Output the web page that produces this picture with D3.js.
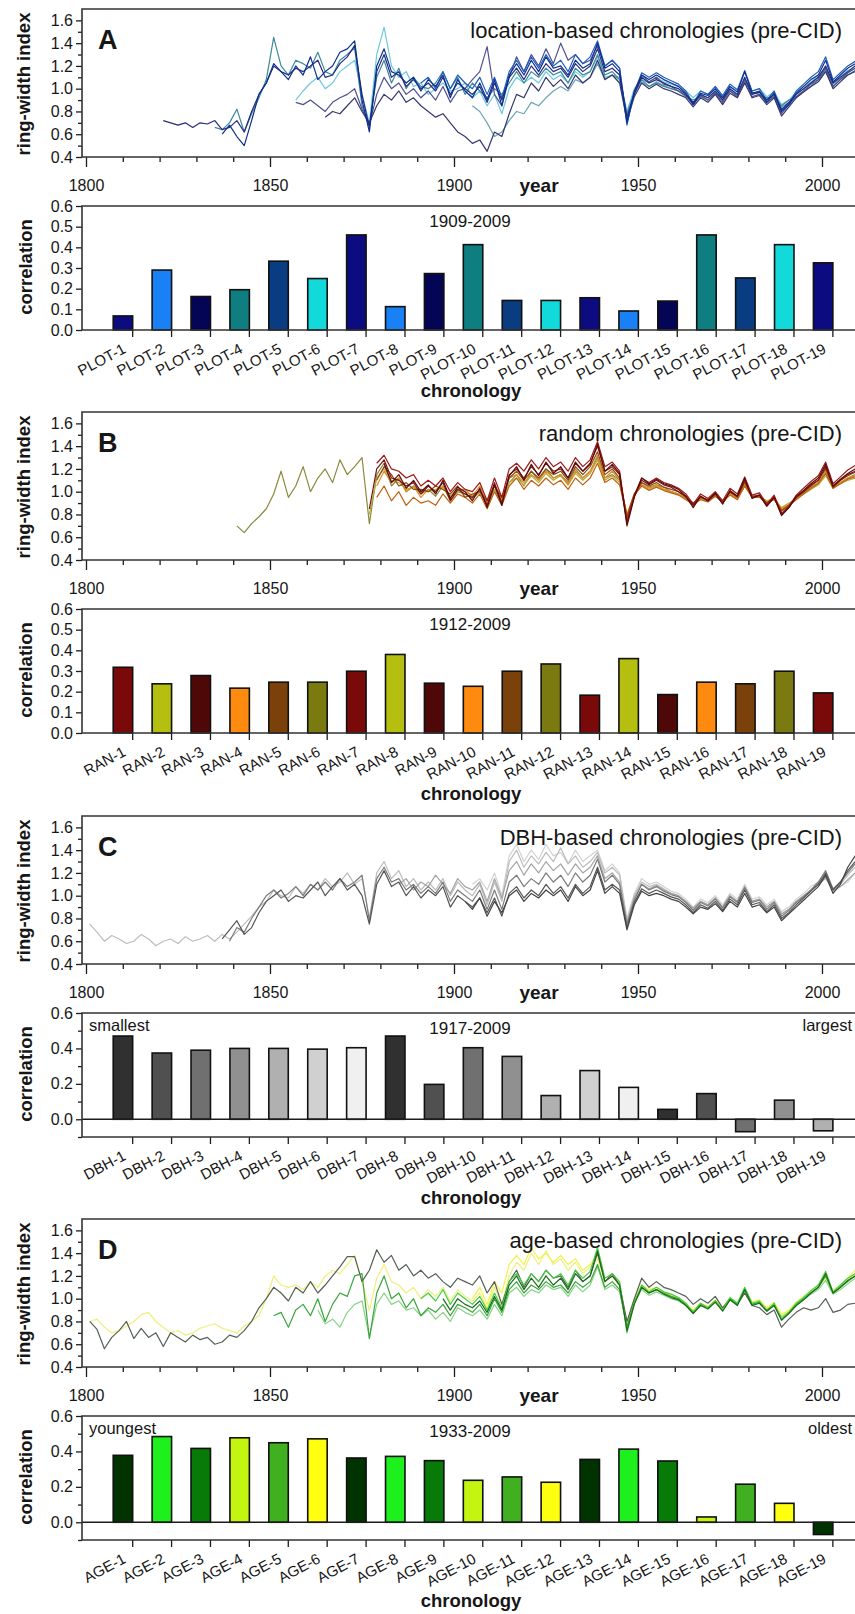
<!DOCTYPE html>
<html lang="en">
<head>
<meta charset="utf-8" />
<title>pre-CID chronologies and correlations</title>
<script src="https://cdn.jsdelivr.net/npm/d3@7"></script>
<style>
  body { margin: 0; background: #fff; }
  svg { display: block; }
  text { font-family: "Liberation Sans", Arial, Helvetica, sans-serif; fill: #161616; }
</style>
</head>
<body>
<svg id="chart" width="855" height="1614"></svg>
<script>
// every ring-width series ends in 2009 and is sampled every 2nd year
var seriesEnd = 2009, seriesStep = 2;

// ---------- A: location-based ----------
var plotNames = ["PLOT-1","PLOT-2","PLOT-3","PLOT-4","PLOT-5","PLOT-6","PLOT-7","PLOT-8","PLOT-9","PLOT-10",
  "PLOT-11","PLOT-12","PLOT-13","PLOT-14","PLOT-15","PLOT-16","PLOT-17","PLOT-18","PLOT-19"];
var plotCorr = [0.068,0.29,0.162,0.195,0.333,0.249,0.46,0.113,0.273,0.413,0.143,0.143,0.156,0.092,0.14,0.46,0.252,0.413,0.325];
var plotBarColors = ["#0c0c80","#1a80f5","#050555","#0e7e80","#0a3c82","#12dada","#0c0c80","#1a80f5","#050555","#0e7e80",
  "#0a3c82","#12dada","#0c0c80","#1a80f5","#050555","#0e7e80","#0a3c82","#12dada","#0c0c80"];
var plotLineColors = ["#6cc9e0","#6aa5b5","#3b8b9b","#505090","#363670","#1f5fc0","#2a2a7e","#0b2f8f"];
var plotLines = [
  [ .90,.98,1.05,1.10,1.00,1.05,1.15,1.20,1.25,.95,.70,                 // 1857-1877
    1.30,1.54,1.20,1.10,1.15,1.02,1.05,0.95,1.00,1.05,
    0.98,1.00,1.05,0.92,0.98,0.85,0.95,0.78,1.00,1.10,
    1.05,1.10,1.05,1.15,1.08,1.12,1.05,1.15,1.10,1.15,
    1.28,1.10,1.12,1.10,0.80,1.00,1.08,1.05,1.10,1.06,
    1.04,1.02,0.98,0.92,0.98,0.95,1.00,0.93,1.02,0.98,
    1.08,0.98,1.00,0.93,0.97,0.86,0.90,0.97,1.02,1.06,
    1.12,1.18,1.06,1.10,1.16,1.18 ],
  [ 0.85,0.80,0.70,0.58,0.62,0.72,0.80,                                 // 1905-1917
    0.78,0.88,0.85,0.92,0.98,1.02,0.98,1.08,1.05,1.10,
    1.22,1.08,1.12,1.08,0.76,0.96,1.06,1.02,1.06,1.03,
    1.00,0.98,0.94,0.88,0.94,0.92,0.97,0.90,0.99,0.95,
    1.08,0.96,0.97,0.90,0.95,0.84,0.88,0.95,1.00,1.05,
    1.10,1.16,1.04,1.09,1.14,1.18 ],
  [ .66,.64,.70,.82,.62,.78,.92,1.08,1.45,1.20,                         // 1835-1853
    1.12,1.25,1.22,1.18,1.32,1.15,1.12,1.25,1.30,1.36,.85,.68,
    1.10,1.25,1.05,1.18,1.00,1.10,1.02,1.00,1.05,1.15,
    1.00,1.10,0.95,1.05,0.98,0.92,1.00,0.95,1.05,1.15,
    1.05,1.15,1.10,1.18,1.12,1.15,1.05,1.18,1.12,1.15,
    1.30,1.12,1.15,1.08,0.78,0.97,1.08,1.02,1.05,1.02,
    1.00,0.98,0.93,0.90,0.93,0.90,0.96,0.92,0.98,0.94,
    1.06,0.97,0.95,0.92,0.93,0.85,0.90,0.93,0.98,1.02,
    1.08,1.15,1.02,1.08,1.12,1.16 ],
  [ .88,.86,.90,.85,.80,.88,.92,.95,1.00,.82,.68,                       // 1857-1877
    0.95,1.10,1.00,1.05,0.95,1.00,0.92,0.98,0.90,1.02,
    0.88,0.98,1.00,1.08,1.15,1.37,0.95,0.85,1.10,1.28,
    1.15,1.30,1.20,1.35,1.22,1.40,1.25,1.30,1.22,1.25,
    1.38,1.20,1.25,1.18,0.72,0.96,1.12,1.06,1.10,1.04,
    1.02,0.98,0.94,0.86,0.94,0.90,0.96,0.88,0.98,0.93,
    1.08,0.93,0.95,0.88,0.93,0.78,0.86,0.93,0.98,1.04,
    1.08,1.18,1.02,1.08,1.14,1.18 ],
  [ .75,.80,.78,.85,.92,.80,.70,                                        // 1865-1877
    0.85,0.95,0.90,0.98,0.88,0.92,0.85,0.80,0.75,0.78,
    0.70,0.62,0.58,0.52,0.55,0.45,0.62,0.58,0.78,0.95,
    0.92,1.05,0.98,1.10,1.02,1.08,1.00,1.12,1.05,1.10,
    1.25,1.08,1.12,1.05,0.72,0.93,1.05,1.00,1.04,1.00,
    0.98,0.95,0.92,0.84,0.92,0.88,0.95,0.86,0.96,0.92,
    1.05,0.92,0.94,0.86,0.92,0.76,0.84,0.92,0.97,1.02,
    1.06,1.15,1.00,1.06,1.12,1.15 ],
  [ 1.05,1.10,1.00,1.15,                                                // 1891-1897
    1.00,1.12,1.05,1.00,1.10,0.95,1.10,0.92,1.15,1.25,
    1.15,1.28,1.18,1.30,1.20,1.25,1.15,1.30,1.22,1.28,
    1.42,1.20,1.25,1.18,0.68,0.97,1.14,1.10,1.14,1.10,
    1.07,1.04,0.98,0.87,0.98,0.95,1.02,0.94,1.04,0.99,
    1.16,0.98,1.00,0.90,0.98,0.81,0.87,0.98,1.04,1.10,
    1.15,1.28,1.08,1.14,1.20,1.24 ],
  [ .72,.70,.68,.70,.66,.70,.69,.72,.64,.66,                            // 1821-1839
    .72,.62,.80,.95,1.05,1.20,1.15,1.12,1.18,1.15,
    1.20,1.25,1.10,1.12,1.22,1.28,1.38,.95,.66,
    1.15,1.30,1.10,1.15,1.02,1.08,1.00,1.05,0.98,1.10,
    0.95,1.05,1.00,0.95,1.02,0.88,1.05,0.90,1.10,1.18,
    1.08,1.20,1.12,1.22,1.15,1.18,1.10,1.22,1.15,1.20,
    1.35,1.15,1.18,1.12,0.75,0.95,1.10,1.05,1.08,1.05,
    1.02,1.00,0.95,0.88,0.95,0.92,0.98,0.90,1.00,0.95,
    1.10,0.95,0.97,0.90,0.95,0.82,0.88,0.95,1.00,1.05,
    1.10,1.20,1.05,1.10,1.15,1.20 ],
  [ .60,.68,.58,.50,.72,.95,1.05,1.22,1.15,1.08,                        // 1837-1855
    1.20,1.12,1.28,1.08,1.15,1.20,1.32,1.35,1.42,.90,.62,
    1.20,1.35,1.15,1.12,1.05,1.10,0.98,1.08,1.02,1.12,
    0.92,1.08,0.98,0.92,1.05,0.90,1.08,0.85,1.12,1.22,
    1.12,1.25,1.15,1.28,1.18,1.20,1.12,1.25,1.18,1.22,
    1.40,1.18,1.22,1.15,0.70,0.98,1.12,1.08,1.12,1.08,
    1.05,1.02,0.96,0.86,0.96,0.94,1.00,0.92,1.02,0.97,
    1.15,0.96,0.98,0.88,0.96,0.80,0.86,0.96,1.02,1.08,
    1.12,1.25,1.06,1.12,1.18,1.22 ]
];

// ---------- B: random ----------
var ranNames = ["RAN-1","RAN-2","RAN-3","RAN-4","RAN-5","RAN-6","RAN-7","RAN-8","RAN-9","RAN-10",
  "RAN-11","RAN-12","RAN-13","RAN-14","RAN-15","RAN-16","RAN-17","RAN-18","RAN-19"];
var ranCorr = [0.318,0.238,0.278,0.217,0.246,0.246,0.299,0.38,0.241,0.226,0.299,0.334,0.183,0.36,0.186,0.246,0.238,0.299,0.194];
var ranBarColors = ["#7a0a0a","#b5bf10","#4f0808","#ff8a10","#7a420a","#7a7a10","#7a0a0a","#b5bf10","#4f0808","#ff8a10",
  "#7a420a","#7a7a10","#7a0a0a","#b5bf10","#4f0808","#ff8a10","#7a420a","#7a7a10","#7a0a0a"];
var ranLineColors = ["#8a8a3a","#b0b040","#e08a20","#c06010","#8b4a14","#a01818","#7a1414","#5a0a0a"];
var ranLines = [
  [ .70,.64,.72,.78,.85,.98,1.18,.95,1.05,1.22,                         // 1841-1859
    1.00,1.12,1.20,1.08,1.28,1.15,1.22,1.30,0.72,
    1.15,1.25,1.05,1.12,1.00,1.05,0.98,1.02,0.96,1.05,
    0.92,1.00,0.98,0.94,1.00,0.88,1.02,0.90,1.08,1.15,
    1.05,1.18,1.10,1.20,1.12,1.15,1.08,1.20,1.12,1.18,
    1.30,1.12,1.15,1.10,0.76,0.96,1.08,1.04,1.06,1.04,
    1.00,0.98,0.94,0.88,0.94,0.92,0.97,0.90,0.99,0.95,
    1.08,0.95,0.96,0.90,0.94,0.83,0.88,0.94,0.99,1.04,
    1.08,1.16,1.03,1.08,1.12,1.15 ],
  [ 0.80,                                                               // 1877
    1.12,1.20,1.10,1.08,1.02,1.04,1.00,1.00,1.02,1.04,
    0.96,1.02,1.00,0.97,1.00,0.92,1.02,0.94,1.08,1.12,
    1.06,1.14,1.08,1.16,1.10,1.14,1.06,1.16,1.10,1.16,
    1.28,1.10,1.14,1.08,0.80,0.98,1.06,1.02,1.05,1.02,
    1.00,0.98,0.94,0.90,0.94,0.92,0.96,0.92,0.98,0.94,
    1.05,0.96,0.96,0.92,0.94,0.86,0.90,0.94,0.98,1.02,
    1.06,1.14,1.03,1.07,1.10,1.12 ],
  [ 1.05,1.18,1.08,1.12,1.00,1.05,0.95,1.02,1.00,1.05,                  // 1879-1897
    0.95,1.02,1.02,0.96,1.05,0.90,1.05,0.92,1.12,1.15,
    1.08,1.15,1.10,1.18,1.12,1.15,1.06,1.18,1.12,1.18,
    1.32,1.12,1.18,1.10,0.80,0.98,1.06,1.03,1.06,1.02,
    1.00,0.98,0.94,0.90,0.94,0.92,0.97,0.92,0.98,0.94,
    1.06,0.96,0.96,0.91,0.94,0.85,0.89,0.94,0.99,1.04,
    1.08,1.18,1.04,1.08,1.12,1.14 ],
  [ 0.95,1.05,0.92,1.00,0.88,0.95,0.90,0.92,0.88,0.98,                  // 1879-1897
    0.90,0.98,0.95,0.90,0.98,0.85,1.00,0.88,1.05,1.12,
    1.02,1.10,1.05,1.12,1.06,1.10,1.02,1.12,1.06,1.12,
    1.25,1.08,1.12,1.06,0.78,0.97,1.05,1.01,1.04,1.01,
    0.99,0.97,0.93,0.89,0.93,0.91,0.96,0.91,0.97,0.93,
    1.05,0.95,0.95,0.90,0.93,0.84,0.88,0.93,0.98,1.03,
    1.07,1.16,1.03,1.07,1.11,1.13 ],
  [ 1.10,1.22,1.15,1.05,1.08,1.02,1.02,1.00,1.05,1.02,                  // 1879-1897
    0.98,1.05,0.95,0.98,1.00,0.92,1.05,0.95,1.12,1.18,
    1.10,1.18,1.12,1.20,1.15,1.18,1.10,1.22,1.15,1.22,
    1.35,1.15,1.20,1.12,0.78,0.98,1.08,1.05,1.08,1.04,
    1.02,1.00,0.95,0.90,0.95,0.93,0.98,0.91,1.00,0.95,
    1.08,0.96,0.97,0.90,0.95,0.83,0.88,0.95,1.00,1.05,
    1.10,1.20,1.05,1.10,1.14,1.17 ],
  [ 1.25,1.32,1.20,1.18,1.12,1.15,1.05,1.10,1.05,1.12,                  // 1879-1897
    1.00,1.08,1.02,1.00,1.08,0.92,1.12,0.95,1.20,1.25,
    1.18,1.28,1.20,1.30,1.22,1.26,1.18,1.30,1.22,1.28,
    1.44,1.22,1.26,1.18,0.74,0.97,1.12,1.08,1.12,1.08,
    1.06,1.03,0.98,0.89,0.98,0.94,1.00,0.92,1.03,0.98,
    1.13,0.97,0.99,0.89,0.97,0.81,0.87,0.97,1.03,1.09,
    1.14,1.26,1.07,1.13,1.19,1.23 ],
  [ 0.85,                                                               // 1877
    1.20,1.28,1.12,1.10,1.05,1.08,0.98,1.05,1.00,1.08,
    0.92,1.02,0.98,0.95,1.02,0.88,1.08,0.90,1.15,1.20,
    1.12,1.22,1.15,1.25,1.18,1.20,1.12,1.25,1.18,1.25,
    1.40,1.18,1.22,1.15,0.72,0.96,1.10,1.06,1.10,1.06,
    1.04,1.00,0.96,0.88,0.96,0.92,0.98,0.90,1.00,0.96,
    1.10,0.95,0.97,0.88,0.95,0.80,0.86,0.95,1.00,1.06,
    1.10,1.22,1.04,1.10,1.15,1.18 ],
  [ 1.25,1.08,1.15,1.03,1.10,1.00,1.06,0.98,1.10,                       // 1881-1897
    0.94,1.04,1.00,0.92,1.03,0.86,1.06,0.88,1.14,1.22,
    1.10,1.24,1.14,1.26,1.16,1.22,1.12,1.26,1.18,1.24,
    1.42,1.18,1.24,1.16,0.70,0.95,1.12,1.07,1.11,1.07,
    1.05,1.02,0.96,0.86,0.96,0.92,0.99,0.89,1.01,0.96,
    1.12,0.94,0.97,0.87,0.95,0.79,0.86,0.96,1.01,1.07,
    1.12,1.24,1.05,1.11,1.16,1.20 ]
];

// ---------- C: DBH-based ----------
var dbhNames = ["DBH-1","DBH-2","DBH-3","DBH-4","DBH-5","DBH-6","DBH-7","DBH-8","DBH-9","DBH-10",
  "DBH-11","DBH-12","DBH-13","DBH-14","DBH-15","DBH-16","DBH-17","DBH-18","DBH-19"];
var dbhCorr = [0.47,0.374,0.39,0.40,0.40,0.396,0.404,0.47,0.197,0.404,0.355,0.134,0.275,0.18,0.056,0.145,-0.07,0.108,-0.065];
var dbhBarColors = ["#303030","#505050","#707070","#909090","#b0b0b0","#d0d0d0","#f0f0f0","#303030","#505050","#707070",
  "#909090","#b0b0b0","#d0d0d0","#f0f0f0","#303030","#505050","#707070","#909090","#b0b0b0"];
var dbhLineColors = ["#d2d2d2","#bcbcbc","#a4a4a4","#7c7c7c","#555555","#444444"];
var dbhLines = [
  [ 1.10,1.15,1.05,1.20,1.00,1.35,1.45,                                 // 1905-1917
    1.30,1.40,1.32,1.45,1.35,1.38,1.28,1.40,1.30,1.35,
    1.40,1.22,1.28,1.20,0.80,1.02,1.15,1.10,1.12,1.08,
    1.04,1.02,0.97,0.90,0.97,0.94,1.00,0.92,1.02,0.97,
    1.10,0.97,0.99,0.92,0.97,0.86,0.90,0.97,1.02,1.08,
    1.12,1.18,1.05,1.08,1.12,1.20 ],
  [ .75,.68,.60,.65,.62,.58,.60,.66,.62,.56,                            // 1801-1819
    .60,.62,.58,.64,.60,.62,.65,.60,.66,.62,
    .68,.75,.82,.90,.95,1.05,1.00,.98,1.08,1.02,
    1.10,1.05,1.15,1.08,1.12,1.20,1.10,1.15,.80,
    1.20,1.30,1.15,1.22,1.08,1.15,1.05,1.12,1.05,1.15,
    1.00,1.12,1.05,1.00,1.10,0.92,1.12,0.95,1.30,1.40,
    1.25,1.35,1.28,1.38,1.30,1.42,1.28,1.35,1.25,1.30,
    1.38,1.20,1.25,1.18,0.78,1.00,1.12,1.08,1.10,1.06,
    1.02,1.00,0.95,0.88,0.95,0.92,0.98,0.90,1.00,0.95,
    1.08,0.95,0.97,0.90,0.95,0.84,0.88,0.95,1.00,1.05,
    1.10,1.15,1.05,1.10,1.18,1.25 ],
  [ 1.10,1.15,1.05,1.12,1.08,1.18,1.10,                                 // 1885-1897
    1.02,1.15,1.08,1.05,1.12,0.95,1.15,0.98,1.22,1.30,
    1.18,1.28,1.20,1.30,1.22,1.28,1.18,1.28,1.20,1.25,
    1.35,1.15,1.20,1.12,0.76,0.98,1.10,1.06,1.09,1.05,
    1.02,1.00,0.95,0.89,0.95,0.92,0.98,0.90,1.00,0.95,
    1.08,0.95,0.97,0.90,0.95,0.84,0.88,0.95,1.00,1.05,
    1.10,1.16,1.04,1.08,1.14,1.20 ],
  [ .60,.72,.68,.80,.90,1.00,1.05,.98,1.02,1.08,                        // 1839-1857
    1.00,1.10,1.05,1.12,1.05,1.15,1.08,1.12,1.18,.78,
    1.15,1.25,1.12,1.15,1.05,1.10,1.02,1.08,1.02,1.12,
    0.95,1.05,1.00,0.95,1.05,0.88,1.05,0.88,1.12,1.18,
    1.08,1.15,1.10,1.20,1.12,1.18,1.08,1.20,1.12,1.18,
    1.32,1.12,1.18,1.10,0.75,0.96,1.10,1.05,1.08,1.04,
    1.01,0.99,0.94,0.87,0.94,0.91,0.97,0.89,0.99,0.94,
    1.07,0.94,0.96,0.88,0.94,0.82,0.87,0.94,0.99,1.05,
    1.12,1.22,1.06,1.12,1.20,1.28 ],
  [ .62,.70,.78,.66,.72,.85,.95,1.00,1.05,.95,                          // 1837-1855
    1.00,.98,1.05,1.12,1.00,1.08,1.15,1.05,1.10,1.00,.75,
    1.10,1.22,1.08,1.12,1.00,1.08,0.98,1.05,1.00,1.08,
    0.90,1.00,0.95,0.90,0.98,0.85,0.98,0.82,1.02,1.08,
    0.98,1.05,1.00,1.10,1.02,1.08,0.98,1.10,1.02,1.08,
    1.25,1.05,1.10,1.05,0.72,0.94,1.06,1.02,1.05,1.02,
    0.99,0.97,0.92,0.85,0.92,0.89,0.95,0.87,0.97,0.92,
    1.05,0.92,0.94,0.86,0.92,0.80,0.85,0.92,0.98,1.04,
    1.10,1.20,1.05,1.12,1.22,1.30 ],
  [ 0.95,0.88,0.98,0.82,0.95,0.85,1.00,1.05,                            // 1903-1917
    0.95,1.02,0.98,1.05,1.00,1.05,0.95,1.08,1.00,1.05,
    1.22,1.02,1.08,1.02,0.70,0.92,1.04,1.00,1.02,1.00,
    0.97,0.95,0.90,0.84,0.90,0.88,0.93,0.86,0.95,0.90,
    1.02,0.90,0.92,0.85,0.90,0.78,0.84,0.90,0.96,1.02,
    1.08,1.18,1.02,1.10,1.25,1.35 ]
];

// ---------- D: age-based ----------
var ageNames = ["AGE-1","AGE-2","AGE-3","AGE-4","AGE-5","AGE-6","AGE-7","AGE-8","AGE-9","AGE-10",
  "AGE-11","AGE-12","AGE-13","AGE-14","AGE-15","AGE-16","AGE-17","AGE-18","AGE-19"];
var ageCorr = [0.378,0.484,0.417,0.477,0.449,0.471,0.363,0.372,0.348,0.237,0.256,0.226,0.355,0.413,0.346,0.03,0.215,0.107,-0.069];
var ageBarColors = ["#003300","#1ef01e","#077a07","#c4f510","#40b020","#ffff10","#003300","#1ef01e","#077a07","#c4f510",
  "#40b020","#ffff10","#003300","#1ef01e","#077a07","#c4f510","#40b020","#ffff10","#003300"];
var ageLineColors = ["#eef07a","#f2f24a","#86d486","#555f55","#3aa53a","#44d044","#1a6a1a"];
var ageLines = [
  [ .80,.82,.75,.70,.72,.76,.80,.86,.88,.80,                            // 1801-1819
    .75,.70,.72,.68,.70,.74,.76,.78,.74,.72,
    .70,.76,.80,.85,1.00,1.20,1.12,1.10,1.12,1.08,
    1.15,1.10,1.20,1.25,1.22,1.30,1.38,1.15,0.90,
    1.18,1.30,1.15,1.12,1.05,1.10,1.00,1.08,1.02,1.10,
    0.98,1.08,1.02,0.98,1.05,0.92,1.10,0.95,1.20,1.32,
    1.25,1.40,1.30,1.42,1.30,1.35,1.25,1.32,1.22,1.28,
    1.35,1.15,1.20,1.12,0.78,0.98,1.10,1.05,1.08,1.05,
    1.02,1.00,0.96,0.90,0.96,0.93,0.98,0.91,1.00,0.96,
    1.08,0.96,0.98,0.91,0.96,0.85,0.89,0.96,1.01,1.06,
    1.10,1.18,1.05,1.10,1.16,1.22 ],
  [ 1.00,1.10,0.95,1.15,1.05,1.30,1.38,                                 // 1905-1917
    1.30,1.45,1.35,1.40,1.32,1.38,1.30,1.35,1.25,1.30,
    1.38,1.15,1.22,1.14,0.78,1.00,1.12,1.08,1.10,1.06,
    1.03,1.01,0.96,0.90,0.96,0.93,0.99,0.92,1.01,0.96,
    1.09,0.97,0.99,0.92,0.97,0.86,0.90,0.97,1.02,1.07,
    1.12,1.20,1.07,1.12,1.18,1.25 ],
  [ .90,.78,.82,.75,.88,.95,.98,.66,                                    // 1863-1877
    0.95,1.05,0.95,0.98,0.90,0.92,0.85,0.90,0.82,0.88,
    0.80,0.92,0.88,0.85,0.90,0.82,0.95,0.85,1.05,1.10,
    1.02,1.08,1.05,1.12,1.08,1.10,1.02,1.12,1.06,1.12,
    1.28,1.08,1.12,1.06,0.76,0.96,1.08,1.03,1.06,1.03,
    1.00,0.98,0.94,0.89,0.94,0.92,0.97,0.90,0.99,0.95,
    1.07,0.95,0.96,0.90,0.94,0.84,0.88,0.94,0.99,1.04,
    1.08,1.16,1.04,1.08,1.13,1.18 ],
  [ .80,.73,.56,.66,.72,.80,.65,.74,.66,.70,                            // 1801-1819
    .58,.70,.66,.62,.68,.64,.66,.60,.62,.68,
    .66,.72,.80,.92,1.00,1.10,1.05,.98,1.10,1.05,
    1.15,1.05,1.12,1.20,1.28,1.37,1.37,1.15,1.25,
    1.43,1.32,1.38,1.25,1.30,1.20,1.25,1.18,1.22,1.15,
    1.10,1.18,1.15,1.12,1.20,1.05,1.15,0.95,1.15,1.25,
    1.10,1.22,1.15,1.25,1.18,1.20,1.10,1.25,1.15,1.20,
    1.40,1.15,1.22,1.12,0.80,1.00,1.18,1.10,1.15,1.10,
    1.08,1.05,1.02,0.95,1.00,0.96,1.02,0.92,1.00,0.95,
    1.05,0.94,0.92,0.86,0.90,0.75,0.82,0.88,0.92,0.90,
    0.92,1.00,0.88,0.90,0.95,0.96 ],
  [ .85,.88,.75,.90,.95,.85,1.00,.80,.95,1.05,1.02,1.20,1.22,.65,      // 1851-1877
    1.05,1.20,1.00,1.05,0.92,1.00,0.85,0.92,0.88,0.95,
    0.85,0.95,0.92,0.88,0.95,0.85,1.00,0.88,1.08,1.15,
    1.05,1.12,1.08,1.15,1.10,1.12,1.05,1.15,1.10,1.15,
    1.30,1.10,1.15,1.08,0.75,0.97,1.10,1.05,1.08,1.05,
    1.02,1.00,0.95,0.88,0.95,0.92,0.98,0.90,1.00,0.95,
    1.08,0.95,0.97,0.90,0.95,0.82,0.88,0.95,1.00,1.05,
    1.10,1.20,1.05,1.10,1.15,1.20 ],
  [ 1.00,1.05,0.98,1.08,                                                // 1891-1897
    0.95,1.05,1.00,0.95,1.02,0.90,1.05,0.92,1.15,1.22,
    1.12,1.22,1.15,1.25,1.18,1.22,1.12,1.25,1.18,1.24,
    1.45,1.18,1.22,1.15,0.70,0.96,1.12,1.06,1.10,1.06,
    1.04,1.01,0.96,0.88,0.96,0.92,0.98,0.90,1.01,0.96,
    1.10,0.96,0.98,0.89,0.96,0.82,0.88,0.96,1.01,1.07,
    1.12,1.24,1.06,1.12,1.18,1.22 ],
  [ 1.00,                                                               // 1897
    0.90,1.00,0.95,0.92,0.98,0.88,1.02,0.90,1.12,1.20,
    1.08,1.18,1.10,1.20,1.12,1.18,1.08,1.22,1.15,1.20,
    1.42,1.15,1.20,1.12,0.72,0.95,1.10,1.05,1.08,1.04,
    1.01,0.99,0.94,0.87,0.94,0.91,0.97,0.89,0.99,0.94,
    1.08,0.94,0.96,0.89,0.94,0.81,0.87,0.94,0.99,1.05,
    1.10,1.22,1.05,1.10,1.16,1.20 ]
];

// ---------- drawing ----------
var svg = d3.select("#chart");
var ink = "#1c1c1c";
var xLeft = 82, xRight = 856;

function styleAxis(g, size) {
  g.select(".domain").remove();
  g.selectAll(".tick line").attr("stroke", ink).attr("stroke-width", 1.3);
  g.selectAll(".tick text").attr("fill", ink).style("font-size", size + "px");
}

function drawPanel(p) {
  var T = p.top;
  var g = svg.append("g");

  // ring-width index lines
  var x = d3.scaleLinear().domain([1800, 2000]).range([86, 822]);
  var y = d3.scaleLinear().domain([0.4, 1.7]).range([T + 148, T]);
  var clipId = "clip" + p.letter;
  svg.append("clipPath").attr("id", clipId).append("rect")
    .attr("x", xLeft).attr("y", T).attr("width", xRight - xLeft).attr("height", 148);

  var line = d3.line().x(function(d) { return x(d[0]); }).y(function(d) { return y(d[1]); });
  g.append("g").attr("clip-path", "url(#" + clipId + ")")
    .selectAll("path").data(p.lines).enter().append("path")
      .attr("d", function(vals) {
        return line(vals.map(function(v, i) { return [seriesEnd - seriesStep * (vals.length - 1 - i), v]; }));
      })
      .attr("fill", "none")
      .attr("stroke", function(d, i) { return p.lineColors[i]; })
      .attr("stroke-width", 1.2)
      .attr("stroke-linejoin", "round");

  g.append("g").attr("transform", "translate(" + xLeft + ",0)")
    .call(d3.axisLeft(y).tickValues([0.4, 0.6, 0.8, 1.0, 1.2, 1.4, 1.6]).tickFormat(d3.format(".1f")).tickSize(6).tickPadding(3))
    .call(styleAxis, 16);
  g.append("g").attr("transform", "translate(" + xLeft + ",0)")
    .call(d3.axisLeft(y).tickValues([0.5, 0.7, 0.9, 1.1, 1.3, 1.5]).tickFormat("").tickSize(4))
    .call(styleAxis, 16);
  g.append("g").attr("transform", "translate(0," + (T + 148) + ")")
    .call(d3.axisBottom(x).tickValues([1800, 1850, 1900, 1950, 2000]).tickFormat(d3.format("d")).tickSize(10).tickPadding(13))
    .call(styleAxis, 16);
  g.append("g").attr("transform", "translate(0," + (T + 148) + ")")
    .call(d3.axisBottom(x).tickValues(d3.range(1810, 2001, 10).filter(function(v) { return v % 50; })).tickFormat("").tickSize(5))
    .call(styleAxis, 16);

  g.append("path")
    .attr("d", "M" + xRight + "," + T + "H" + xLeft + "V" + (T + 148) + "H" + xRight)
    .attr("fill", "none").attr("stroke", "#333").attr("stroke-width", 1.6);

  g.append("text").attr("x", 98).attr("y", T + 40)
    .style("font-size", "27px").style("font-weight", "bold").text(p.letter);
  g.append("text").attr("x", 842).attr("y", T + 29).attr("text-anchor", "end")
    .style("font-size", "22px").text(p.title);
  g.append("text").attr("transform", "translate(30," + (T + 75) + ") rotate(-90)")
    .attr("text-anchor", "middle").style("font-size", "18.5px").style("font-weight", "bold")
    .text("ring-width index");
  g.append("text").attr("x", 539).attr("y", T + 183).attr("text-anchor", "middle")
    .style("font-size", "19px").style("font-weight", "bold").text("year");

  // correlation bars
  var B0 = T + 197, B1 = T + 321;
  var xb = d3.scaleBand().domain(p.names).range([103.5, 842.6]).paddingInner(0.5).paddingOuter(0.25);
  var yb = d3.scaleLinear().domain([p.yMin, 0.6]).range([B1, B0]);

  g.append("g").selectAll("rect").data(p.values).enter().append("rect")
    .attr("x", function(d, i) { return xb(p.names[i]); })
    .attr("width", xb.bandwidth())
    .attr("y", function(d) { return yb(Math.max(0, d)); })
    .attr("height", function(d) { return Math.abs(yb(d) - yb(0)); })
    .attr("fill", function(d, i) { return p.barColors[i]; })
    .attr("stroke", "#111").attr("stroke-width", 1.6);

  if (p.yMin < 0) {
    g.append("line").attr("x1", xLeft).attr("x2", xRight).attr("y1", yb(0)).attr("y2", yb(0))
      .attr("stroke", ink).attr("stroke-width", 1.6);
    g.append("g").attr("transform", "translate(" + xLeft + ",0)")
      .call(d3.axisLeft(yb).tickValues([0, 0.2, 0.4, 0.6]).tickFormat(d3.format(".1f")).tickSize(6).tickPadding(3))
      .call(styleAxis, 16);
    g.append("g").attr("transform", "translate(" + xLeft + ",0)")
      .call(d3.axisLeft(yb).tickValues([-0.1, 0.1, 0.3, 0.5]).tickFormat("").tickSize(4))
      .call(styleAxis, 16);
  } else {
    g.append("g").attr("transform", "translate(" + xLeft + ",0)")
      .call(d3.axisLeft(yb).tickValues([0, 0.1, 0.2, 0.3, 0.4, 0.5, 0.6]).tickFormat(d3.format(".1f")).tickSize(6).tickPadding(3))
      .call(styleAxis, 16);
  }

  g.append("g").attr("transform", "translate(" + (xb.bandwidth() / 2) + "," + B1 + ")")
    .call(d3.axisBottom(xb).tickSize(7).tickFormat(""))
    .call(styleAxis, 15);
  g.append("g").selectAll("text").data(p.names).enter().append("text")
    .attr("transform", function(d) {
      return "translate(" + (xb(d) + xb.bandwidth() / 2 + 4) + "," + (B1 + 22) + ") rotate(-28)";
    })
    .attr("text-anchor", "end").style("font-size", "15px").text(function(d) { return d; });

  g.append("path")
    .attr("d", "M" + xRight + "," + B0 + "H" + xLeft + "V" + B1 + "H" + xRight)
    .attr("fill", "none").attr("stroke", "#333").attr("stroke-width", 1.6);

  g.append("text").attr("transform", "translate(32," + (T + 258) + ") rotate(-90)")
    .attr("text-anchor", "middle").style("font-size", "18.5px").style("font-weight", "bold")
    .text("correlation");
  g.append("text").attr("x", 471).attr("y", T + 388).attr("text-anchor", "middle")
    .style("font-size", "18.5px").style("font-weight", "bold").text("chronology");
  g.append("text").attr("x", 470).attr("y", T + 218).attr("text-anchor", "middle")
    .style("font-size", "17px").text(p.period);
  if (p.leftNote) {
    g.append("text").attr("x", 89).attr("y", T + 215).style("font-size", "16.5px").text(p.leftNote);
    g.append("text").attr("x", 852).attr("y", T + 215).attr("text-anchor", "end")
      .style("font-size", "16.5px").text(p.rightNote);
  }
}

drawPanel({ top: 9, letter: "A", title: "location-based chronologies (pre-CID)",
  lines: plotLines, lineColors: plotLineColors,
  names: plotNames, values: plotCorr, barColors: plotBarColors, yMin: 0, period: "1909-2009" });
drawPanel({ top: 412, letter: "B", title: "random chronologies (pre-CID)",
  lines: ranLines, lineColors: ranLineColors,
  names: ranNames, values: ranCorr, barColors: ranBarColors, yMin: 0, period: "1912-2009" });
drawPanel({ top: 816, letter: "C", title: "DBH-based chronologies (pre-CID)",
  lines: dbhLines, lineColors: dbhLineColors,
  names: dbhNames, values: dbhCorr, barColors: dbhBarColors, yMin: -0.1, period: "1917-2009",
  leftNote: "smallest", rightNote: "largest" });
drawPanel({ top: 1219, letter: "D", title: "age-based chronologies (pre-CID)",
  lines: ageLines, lineColors: ageLineColors,
  names: ageNames, values: ageCorr, barColors: ageBarColors, yMin: -0.1, period: "1933-2009",
  leftNote: "youngest", rightNote: "oldest" });
</script>
</body>
</html>
